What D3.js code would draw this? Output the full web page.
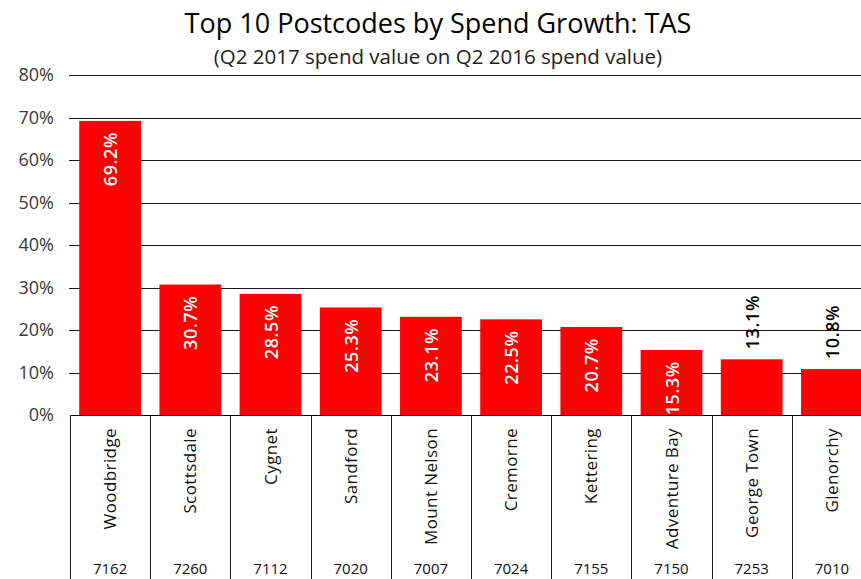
<!DOCTYPE html>
<html>
<head>
<meta charset="utf-8">
<script src="https://cdn.jsdelivr.net/npm/d3@7"></script>
<style>
  html, body { margin: 0; padding: 0; background: #fff; overflow: hidden; }
  svg { display: block; }
</style>
</head>
<body>
<svg id="chart" width="861" height="579"></svg>
<script>
// Suburb names and postcodes, in ranked order
const suburbs = ["Woodbridge", "Scottsdale", "Cygnet", "Sandford", "Mount Nelson",
                 "Cremorne", "Kettering", "Adventure Bay", "George Town", "Glenorchy"];
const postcodes = ["7162", "7260", "7112", "7020", "7007", "7024", "7155", "7150", "7253", "7010"];
// Spend growth, Q2 2017 over Q2 2016 (%)
const growth = [69.2, 30.7, 28.5, 25.3, 23.1, 22.5, 20.7, 15.3, 13.1, 10.8];
// Value axis ticks (%)
const yTicks = [0, 10, 20, 30, 40, 50, 60, 70, 80];

const svg = d3.select("#chart");
const W = 861, H = 579;
const plotLeft = 70, plotRight = 872, plotTop = 75, plotBase = 415;

const x = d3.scaleBand().domain(d3.range(suburbs.length)).range([plotLeft, plotRight]).paddingInner(0.23).paddingOuter(0.115);
const bands = d3.scaleBand().domain(d3.range(suburbs.length)).range([plotLeft, plotRight]);
const y = d3.scaleLinear().domain([0, 80]).range([plotBase, plotTop]);

const font = "'Open Sans', sans-serif";

// Title and subtitle
svg.append("text").attr("x", 438).attr("y", 33).attr("text-anchor", "middle")
  .attr("font-family", font).attr("font-size", 27).attr("fill", "#000")
  .text("Top 10 Postcodes by Spend Growth: TAS");
svg.append("text").attr("x", 438).attr("y", 64).attr("text-anchor", "middle")
  .attr("font-family", font).attr("font-size", 20.5).attr("fill", "#222")
  .text("(Q2 2017 spend value on Q2 2016 spend value)");

// Gridlines
svg.append("g").selectAll("line").data(yTicks.filter(d => d > 0)).join("line")
  .attr("x1", plotLeft - 1).attr("x2", plotRight)
  .attr("y1", d => Math.round(y(d)) + 0.5).attr("y2", d => Math.round(y(d)) + 0.5)
  .attr("stroke", "#1a1a1a").attr("stroke-width", 1);

// Value axis labels
const yAxis = d3.axisLeft(y).tickValues(yTicks).tickSize(0).tickPadding(0).tickFormat(d => d + "%");
const gy = svg.append("g").attr("transform", `translate(${plotLeft - 16},0)`).call(yAxis);
gy.select(".domain").remove();
gy.selectAll("text").attr("font-family", font).attr("font-size", 18).attr("fill", "#383838");

// Bars
svg.append("g").selectAll("rect").data(growth).join("rect")
  .attr("x", (d, i) => x(i)).attr("width", x.bandwidth())
  .attr("y", d => y(d)).attr("height", d => plotBase - y(d))
  .attr("fill", "#ff0000");

// Value labels: inside the bar when there is room, above it otherwise
svg.append("g").selectAll("text").data(growth).join("text")
  .attr("transform", (d, i) => {
    const cx = x(i) + x.bandwidth() / 2 + 7;
    const inside = d > 14;
    const ty = inside ? y(d) + 11 : y(d) - 10;
    return `translate(${cx},${ty}) rotate(-90)`;
  })
  .attr("text-anchor", d => d > 14 ? "end" : "start")
  .attr("font-family", font).attr("font-size", 18).attr("font-weight", 600)
  .attr("letter-spacing", 0.6)
  .attr("fill", d => d > 14 ? "#fff" : "#000")
  .text(d => d.toFixed(1) + "%");

// Category axis: baseline and band separators
svg.append("line").attr("x1", plotLeft).attr("x2", plotRight)
  .attr("y1", plotBase + 0.5).attr("y2", plotBase + 0.5).attr("stroke", "#000");
svg.append("g").selectAll("line").data(d3.range(suburbs.length + 1)).join("line")
  .attr("x1", i => Math.round(plotLeft + i * bands.bandwidth()) + 0.5)
  .attr("x2", i => Math.round(plotLeft + i * bands.bandwidth()) + 0.5)
  .attr("y1", plotBase).attr("y2", H)
  .attr("stroke", "#222");

// Suburb names (rotated) and postcodes
svg.append("g").selectAll("text").data(suburbs).join("text")
  .attr("transform", (d, i) => `translate(${bands(i) + bands.bandwidth() / 2 + 6},428) rotate(-90)`)
  .attr("text-anchor", "end")
  .attr("font-family", font).attr("font-size", 17).attr("letter-spacing", 0.4).attr("fill", "#111")
  .text(d => d);
svg.append("g").selectAll("text").data(postcodes).join("text")
  .attr("x", (d, i) => bands(i) + bands.bandwidth() / 2).attr("y", 574)
  .attr("text-anchor", "middle")
  .attr("font-family", font).attr("font-size", 15).attr("fill", "#111")
  .text(d => d);
</script>
</body>
</html>
